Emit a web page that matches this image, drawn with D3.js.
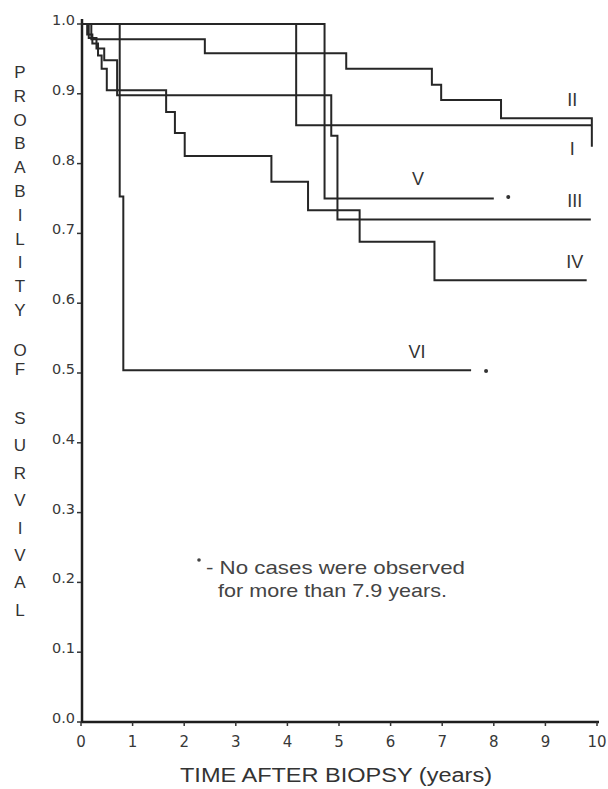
<!DOCTYPE html>
<html lang="en">
<head>
<meta charset="utf-8">
<style>
  body { margin: 0; background: #fff; }
  .curve { fill: none; stroke: #262626; stroke-width: 2px; }
  .axis-line { stroke: #1e1e1e; stroke-width: 2.5px; }
  .tick-lbl { font-family: "DejaVu Sans", sans-serif; font-size: 14.5px; fill: #383838; }
  .ylet { font-family: "Liberation Sans", Arial, sans-serif; font-size: 17px; fill: #333; }
  .clabel { font-family: "Liberation Sans", Arial, sans-serif; font-size: 18px; fill: #333; }
  .note { font-family: "Liberation Sans", Arial, sans-serif; font-size: 19px; fill: #444; }
</style>
</head>
<body>
<svg width="608" height="789"></svg>
<script src="https://cdn.jsdelivr.net/npm/d3@7"></script>
<script>
    // survival curves, [years, probability] at each step
    var curveI   = [[0, 1], [4.17, 0.855], [9.9, 0.855]];
    var curveII  = [[0, 1], [0.2, 0.978], [2.4, 0.958], [5.14, 0.936], [6.8, 0.913], [6.98, 0.891], [8.14, 0.865], [9.9, 0.824]];
    var curveIII = [[0, 1], [0.15, 0.98], [0.3, 0.965], [0.45, 0.948], [0.7, 0.898], [4.85, 0.84], [4.97, 0.72], [9.88, 0.72]];
    var curveIV  = [[0, 1], [0.12, 0.985], [0.22, 0.972], [0.33, 0.955], [0.4, 0.936], [0.5, 0.905], [1.65, 0.874], [1.82, 0.844],
                    [2.01, 0.811], [3.69, 0.774], [4.4, 0.733], [5.4, 0.688], [6.85, 0.633], [9.8, 0.633]];
    var curveV   = [[0, 1], [4.72, 0.75], [8.0, 0.75]];
    var curveVI  = [[0, 1], [0.75, 0.753], [0.82, 0.504], [7.56, 0.504]];

    var xTicks = [0, 1, 2, 3, 4, 5, 6, 7, 8, 9, 10];
    var yTicks = [0, 0.1, 0.2, 0.3, 0.4, 0.5, 0.6, 0.7, 0.8, 0.9, 1.0];

    // curve label placement [name, years, probability]
    var curveLabels = [["II", 9.52, 0.882], ["I", 9.52, 0.813], ["V", 6.53, 0.77], ["III", 9.57, 0.738], ["IV", 9.57, 0.65], ["VI", 6.51, 0.521]];
    // asterisk for curves with no cases beyond 7.9 years
    var stars = [[8.28, 0.752], [7.85, 0.503]];

    var svg = d3.select("svg");

    var x = d3.scaleLinear().domain([0, 10]).range([81, 597]);
    var y = d3.scaleLinear().domain([0, 1]).range([722, 24]);

    // axes
    svg.append("line").attr("class", "axis-line")
        .attr("x1", x(0) + 1).attr("x2", x(0) + 1).attr("y1", y(1) - 5).attr("y2", y(0) + 1);
    svg.append("line").attr("class", "axis-line")
        .attr("x1", x(0)).attr("x2", x(10) + 2).attr("y1", y(0)).attr("y2", y(0));

    svg.selectAll(".ytick").data(yTicks).enter().append("line")
        .attr("x1", x(0) - 4).attr("x2", x(0))
        .attr("y1", function (d) { return y(d); })
        .attr("y2", function (d) { return y(d); })
        .attr("stroke", "#333").attr("stroke-width", 1.5);

    svg.selectAll(".xtick").data(xTicks).enter().append("line")
        .attr("x1", function (d) { return x(d); })
        .attr("x2", function (d) { return x(d); })
        .attr("y1", y(0)).attr("y2", y(0) + 4)
        .attr("stroke", "#333").attr("stroke-width", 1.5);

    svg.selectAll(".ylbl").data(yTicks).enter().append("text")
        .attr("class", "tick-lbl")
        .attr("x", x(0) - 6)
        .attr("y", function (d) { return y(d) + 1; })
        .attr("text-anchor", "end")
        .text(function (d) { return d.toFixed(1); });

    svg.selectAll(".xlbl").data(xTicks).enter().append("text")
        .attr("class", "tick-lbl")
        .style("font-size", "15px")
        .attr("x", function (d) { return x(d); })
        .attr("y", y(0) + 25)
        .attr("text-anchor", "middle")
        .text(function (d) { return d; });

    svg.append("text").attr("class", "clabel")
        .attr("x", 180).attr("y", 782)
        .style("font-size", "20px")
        .attr("textLength", 312).attr("lengthAdjust", "spacingAndGlyphs")
        .text("TIME AFTER BIOPSY (years)");

    // vertical stacked y title
    var words = ["PROBABILITY", "OF", "SURVIVAL"];
    var starts = [78, 356, 424];
    var steps = [23.8, 19, 27.4];
    words.forEach(function (w, wi) {
        w.split("").forEach(function (c, i) {
            svg.append("text").attr("class", "ylet")
                .attr("x", 20).attr("y", starts[wi] + i * steps[wi])
                .attr("text-anchor", "middle")
                .text(c);
        });
    });

    // curves
    var line = d3.line()
        .x(function (d) { return x(d[0]); })
        .y(function (d) { return y(d[1]); })
        .curve(d3.curveStepAfter);

    [curveI, curveII, curveIII, curveIV, curveV, curveVI].forEach(function (c) {
        svg.append("path").attr("class", "curve").attr("d", line(c));
    });

    svg.selectAll(".cl").data(curveLabels).enter().append("text")
        .attr("class", "clabel")
        .attr("x", function (d) { return x(d[1]); })
        .attr("y", function (d) { return y(d[2]); })
        .attr("text-anchor", "middle")
        .text(function (d) { return d[0]; });

    svg.selectAll(".star").data(stars).enter().append("circle")
        .attr("cx", function (d) { return x(d[0]); })
        .attr("cy", function (d) { return y(d[1]); })
        .attr("r", 2).attr("fill", "#333");

    // footnote
    svg.append("circle").attr("cx", 199).attr("cy", 560).attr("r", 1.8).attr("fill", "#444");
    svg.append("text").attr("class", "note").attr("x", 206).attr("y", 574)
        .attr("textLength", 259).attr("lengthAdjust", "spacingAndGlyphs")
        .text("- No cases were observed");
    svg.append("text").attr("class", "note").attr("x", 218).attr("y", 597)
        .attr("textLength", 229).attr("lengthAdjust", "spacingAndGlyphs")
        .text("for more than 7.9 years.");
</script>
</body>
</html>
